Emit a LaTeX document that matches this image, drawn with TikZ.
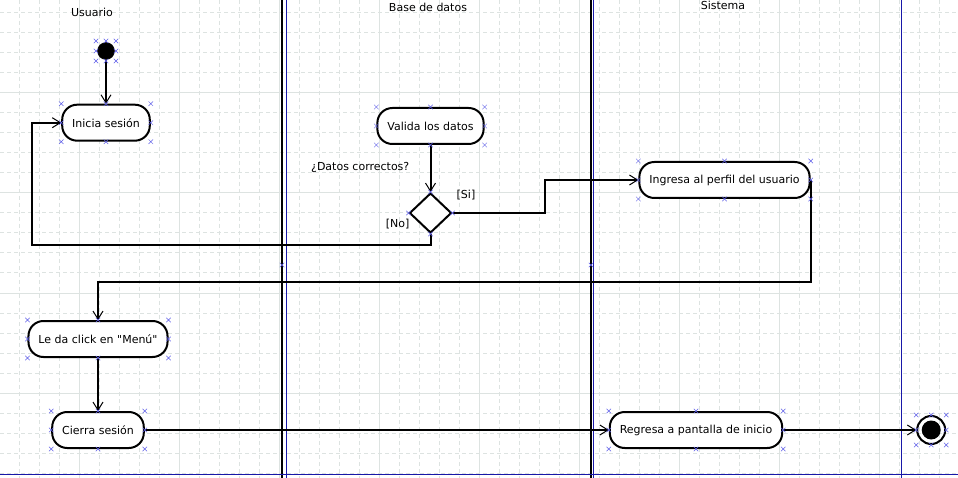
\documentclass[tikz,border=0pt]{standalone}
\usepackage{fontspec}
\setmainfont{DejaVu Sans}[Ligatures=TeXOff]
\usetikzlibrary{positioning,arrows.meta,shapes.geometric,shapes.misc,calc}
\definecolor{gridgray}{RGB}{221,227,225}
\definecolor{lanenavy}{RGB}{24,24,168}
\definecolor{markblue}{RGB}{96,96,232}
\newcommand{\selmarks}[1]{\foreach \a [count=\k] in {north west,north,north east,west,east,south west,south,south east}
  {\node[handle] (#1-h\k) at (#1.\a) {};}}
\newcommand{\dotmarks}[2]{\foreach \i/\j [count=\k] in {-1/-1,0/-1,1/-1,-1/0,1/0,-1/1,0/1,1/1}
  {\node[handle] (#1-h\k) at ($(#1)+(\i*#2,\j*#2)$) {};}}
\begin{document}
\begin{tikzpicture}[x=1pt, y=-1pt, every node/.style={font=\fontsize{11}{13}\selectfont},
  flow/.style={line width=2pt, -{Straight Barb[length=8pt,width=10pt,line width=1pt]}},
  handle/.style={cross out, draw=markblue, line width=0.5pt, minimum size=4pt, inner sep=0pt},
  minorgrid/.style={gridgray, line width=1pt, dash pattern=on 4pt off 3pt},
  majorgrid/.style={gridgray, line width=1pt}]
\tikzstyle{activity}=[rectangle, rounded corners=15pt, draw, line width=2pt, fill=white, minimum height=36pt, inner xsep=10pt]
\tikzstyle{lbl}=[inner sep=1pt]
\useasboundingbox (0,0) rectangle (958,478);
\fill[white] (0,0) rectangle (958,478);
\foreach \x in {19,39,...,939} \draw[minorgrid] (\x,0) -- (\x,478);
\foreach \y in {13,33,...,473} \draw[minorgrid] (0,\y) -- (958,\y);
\foreach \x in {79,179,...,879} \draw[majorgrid] (\x,0) -- (\x,478);
\foreach \y in {93,193,...,393} \draw[majorgrid] (0,\y) -- (958,\y);
% swimlanes
\draw[line width=2pt] (282,0) -- (282,478);
\draw[lanenavy, line width=1pt] (286,0) -- (286,478);
\draw[line width=2pt] (591,0) -- (591,478);
\draw[lanenavy, line width=1pt] (593.5,0) -- (593.5,478);
\draw[lanenavy, line width=1pt] (901,0) -- (901,478);
\draw[lanenavy, line width=1pt] (0,474) -- (958,474);
\node[handle] (lane1-h) at (282,265) {};
\node[handle] (lane2-h) at (591,265) {};
\node (usertitle) at (92,12) {Usuario};
\node (dbtitle) at (428,7) {Base de datos};
\node (systitle) at (723,5) {Sistema};
% activities
\node[circle, fill, draw, minimum size=17pt, inner sep=0pt] (start) at (106,51) {};
\node[activity, below=44pt of start] (login) {Inicia sesión};
\node[activity] (validate) at (430.5,126) {Valida los datos};
\node[diamond, draw, fill=white, line width=2pt, minimum width=42pt, minimum height=40pt, inner sep=0pt, below=47pt of validate] (check) {};
\node[activity] (profile) at (724.5,180) {Ingresa al perfil del usuario};
\node[activity] (menu) at (98,339) {Le da click en "Menú"};
\node[activity, below=53pt of menu] (logout) {Cierra sesión};
\node[activity, right=464pt of logout] (home) {Regresa a pantalla de inicio};
\node[circle, draw, line width=2pt, minimum size=28pt, inner sep=0pt, right=133pt of home] (stop) {};
\node[circle, fill, minimum size=19pt, inner sep=0pt] (stopdot) at (stop) {};
\node[lbl, above left=18pt and 20pt of check.north] (question) {¿Datos correctos?};
\node[lbl, above right=12pt and 3pt of check.east] (yes) {[Si]};
\node[lbl, below left=4.5pt and -2pt of check.west] (no) {[No]};
% flows
\coordinate (noturn) at (32,245);
\draw[flow] (start) -- (login);
\draw[flow] (validate) -- (check);
\draw[flow] (check.east) -| ($(check.east)!0.5!(profile.west)$) |- (profile.west);
\draw[flow] (check.south) |- (noturn) |- (login.west);
\draw[flow] (profile.east) -- ++(0,102) -| (menu.north);
\draw[flow] (menu) -- (logout);
\draw[flow] (logout) -- (home);
\draw[flow] (home) -- (stop);
% selection marks
\dotmarks{start}{10}
\dotmarks{stop}{15}
\selmarks{login}
\selmarks{validate}
\selmarks{profile}
\selmarks{menu}
\selmarks{logout}
\selmarks{home}
\foreach \a [count=\k] in {north,west,east,south} {\node[handle] (check-h\k) at (check.\a) {};}
\end{tikzpicture}
\end{document}
